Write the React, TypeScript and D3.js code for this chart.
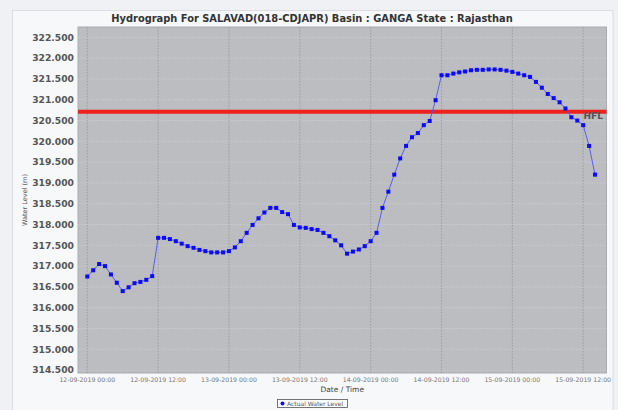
import React from "react";
import * as d3 from "d3";

const TITLE = "Hydrograph For SALAVAD(018-CDJAPR) Basin : GANGA State : Rajasthan";
const SERIES_NAME = "Actual Water Level";
const HFL_LABEL = "HFL";
const HFL_VALUE = 320.71;
const START_UTC = Date.UTC(2019, 8, 12, 0, 0); // 12-09-2019 00:00, hourly readings

const waterLevels = [
  316.75, 316.9, 317.05, 317.0, 316.8, 316.6, 316.4, 316.49, 316.59, 316.62, 316.67, 316.76,
  317.68, 317.68, 317.65, 317.6, 317.54, 317.48, 317.44, 317.39, 317.36, 317.33, 317.33, 317.33,
  317.36, 317.45, 317.6, 317.8, 317.99, 318.15, 318.29, 318.4, 318.4, 318.3, 318.25, 317.99,
  317.93, 317.92, 317.89, 317.87, 317.8, 317.72, 317.62, 317.5, 317.3, 317.35, 317.4, 317.48,
  317.6, 317.8, 318.4, 318.79, 319.2, 319.59, 319.89, 320.1, 320.2, 320.39, 320.49, 320.99,
  321.59, 321.59, 321.63, 321.66, 321.68, 321.71, 321.72, 321.72, 321.73, 321.73, 321.72, 321.7,
  321.67, 321.63, 321.59, 321.55, 321.43, 321.29, 321.14, 321.04, 320.94, 320.79, 320.58, 320.5,
  320.39, 319.89, 319.2,
];

const yTicks = [314.5, 315, 315.5, 316, 316.5, 317, 317.5, 318, 318.5, 319, 319.5, 320, 320.5, 321, 321.5, 322, 322.5];
const xTickHours = [0, 12, 24, 36, 48, 60, 72, 84];

const HOUR = 3600 * 1000;
const data = waterLevels.map((v, i) => ({ t: new Date(START_UTC + i * HOUR), v }));

export default function App() {
  const W = 618, H = 410;
  const plot = { left: 78, right: 606.5, top: 27, bottom: 373 };

  const x = d3
    .scaleUtc()
    .domain([new Date(START_UTC - 1.57 * HOUR), new Date(START_UTC + 87.95 * HOUR)])
    .range([plot.left, plot.right]);
  const y = d3.scaleLinear().domain([314.43, 322.75]).range([plot.bottom, plot.top]);

  const fmt = d3.utcFormat("%d-%m-%Y %H:%M");
  const line = d3
    .line<{ t: Date; v: number }>()
    .x((d) => x(d.t))
    .y((d) => y(d.v));

  const font = "'DejaVu Sans', sans-serif";
  const cx = (plot.left + plot.right) / 2;

  return (
    <svg
      width={W}
      height={H}
      style={{ position: "fixed", left: 0, top: 0, background: "#eff1f4" }}
      fontFamily={font}
    >
      <rect x={12.5} y={10.5} width={600.5} height={410} fill="#f6f8fa" stroke="#dadde1" />
      <text x={312} y={22} textAnchor="middle" fontSize={9.9} fontWeight="bold" fill="#333">
        {TITLE}
      </text>

      <rect
        x={plot.left}
        y={plot.top}
        width={plot.right - plot.left}
        height={plot.bottom - plot.top}
        fill="#bbbdc0"
        stroke="#a9abae"
        strokeWidth={1}
      />
      {yTicks.map((t) => (
        <g key={t}>
          <line
            x1={plot.left}
            x2={plot.right}
            y1={y(t)}
            y2={y(t)}
            stroke="#d4d6d8"
            strokeWidth={0.6}
            strokeDasharray="1.5,1.5"
          />
          <text
            x={74}
            y={y(t) + 3.3}
            textAnchor="end"
            fontSize={9.2}
            fontWeight="bold"
            fill="#555"
          >
            {d3.format(".3f")(t)}
          </text>
        </g>
      ))}
      {xTickHours.map((h) => {
        const d = new Date(START_UTC + h * HOUR);
        return (
          <g key={h}>
            <line
              x1={x(d)}
              x2={x(d)}
              y1={plot.top}
              y2={plot.bottom}
              stroke="#8f9194"
              strokeWidth={0.7}
              strokeDasharray="1.5,1.5"
            />
            <text x={x(d)} y={382} textAnchor="middle" fontSize={6.2} fill="#777">
              {fmt(d)}
            </text>
          </g>
        );
      })}

      <line
        x1={plot.left}
        x2={plot.right}
        y1={y(HFL_VALUE)}
        y2={y(HFL_VALUE)}
        stroke="#f0201c"
        strokeWidth={4}
      />
      <text x={603} y={119} textAnchor="end" fontSize={9} fontWeight="bold" fill="#555">
        {HFL_LABEL}
      </text>

      <path d={line(data) ?? ""} fill="none" stroke="#5050ff" strokeWidth={0.9} />
      {data.map((d, i) => (
        <rect key={i} x={x(d.t) - 2} y={y(d.v) - 2} width={4} height={4} fill="#0a0aff" />
      ))}

      <text x={cx} y={392} textAnchor="middle" fontSize={7.5} fill="#444">
        Date / Time
      </text>
      <text
        transform={`translate(27,${(plot.top + plot.bottom) / 2}) rotate(-90)`}
        textAnchor="middle"
        fontSize={6.5}
        fill="#555"
      >
        Water Level (m)
      </text>

      <rect x={277.5} y={399.5} width={70} height={8} fill="#fbfcfd" stroke="#555" strokeWidth={0.8} />
      <circle cx={282.5} cy={403.5} r={2} fill="#0a0aff" />
      <text x={287} y={405.8} fontSize={6} fill="#555">
        {SERIES_NAME}
      </text>
    </svg>
  );
}
